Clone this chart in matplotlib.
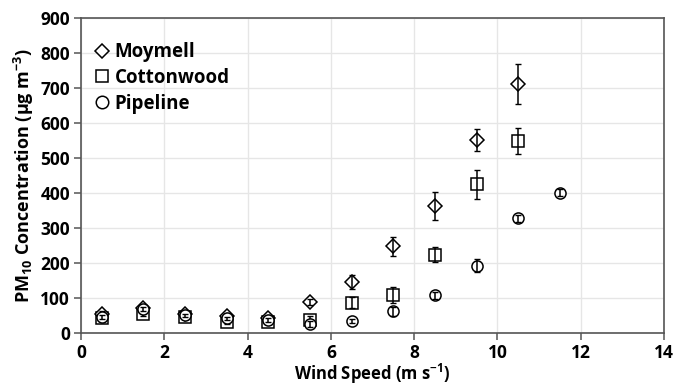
import matplotlib
matplotlib.use("Agg")
import matplotlib.pyplot as plt
from matplotlib.lines import Line2D

plt.rcParams['font.family'] = ['Open Sans', 'DejaVu Sans']
plt.rcParams['mathtext.default'] = 'regular'

moy_x = [0.5, 1.5, 2.5, 3.5, 4.5, 5.5, 6.5, 7.5, 8.5, 9.5, 10.5]
moy_y = [55, 70, 55, 48, 41, 88, 145, 247, 364, 551, 712]
moy_e = [8, 8, 6, 5, 5, 8, 20, 28, 40, 32, 56]

cot_x = [0.5, 1.5, 2.5, 3.5, 4.5, 5.5, 6.5, 7.5, 8.5, 9.5, 10.5]
cot_y = [41, 55, 46, 31, 31, 36, 86, 109, 223, 425, 549]
cot_e = [8, 6, 5, 5, 5, 12, 15, 23, 21, 41, 38]

pip_x = [0.5, 1.5, 2.5, 3.5, 4.5, 5.5, 6.5, 7.5, 8.5, 9.5, 10.5, 11.5]
pip_y = [46, 67, 50, 41, 36, 25, 33, 61, 107, 192, 328, 401]
pip_e = [6, 6, 5, 5, 5, 8, 5, 12, 10, 18, 10, 10]

fig = plt.figure(figsize=(6.9, 3.86), dpi=100)
ax = fig.add_axes([0.1174, 0.138, 0.8449, 0.8146])

series = [(cot_x, cot_y, cot_e, 's', 8), (moy_x, moy_y, moy_e, 'D', 7.5), (pip_x, pip_y, pip_e, 'o', 8)]
z = 3
for xs, ys, es, m, ms in series:
    ax.plot(xs, ys, linestyle='none', marker=m, markersize=ms, markerfacecolor='white',
            markeredgecolor='black', markeredgewidth=1.1, zorder=z)
    ax.errorbar(xs, ys, yerr=es, fmt='none', ecolor='black', elinewidth=1.1,
                capsize=2, capthick=1.0, zorder=z + 0.5)
    z += 1

ax.set_xlim(0, 14)
ax.set_ylim(0, 900)
ax.set_xticks(range(0, 15, 2))
ax.set_yticks(range(0, 901, 100))
ax.grid(True, color='#e6e6e6', linewidth=1)
ax.set_axisbelow(True)
for s in ax.spines.values():
    s.set_color('#555555')
    s.set_linewidth(1.2)
ax.tick_params(axis='both', direction='out', length=5, width=1.1, color='#555555',
               labelsize=12.5, pad=3)
for lab in ax.get_xticklabels() + ax.get_yticklabels():
    lab.set_fontweight('bold')

ax.set_xlabel('Wind Speed (m s$^{-1}$)', fontsize=12, fontweight='bold', va='center')
ax.xaxis.set_label_coords(0.5, -0.132)
ax.set_ylabel('PM$_{10}$ Concentration (µg m$^{-3}$)', fontsize=13, fontweight='bold', labelpad=3)

handles = [Line2D([], [], marker='D', markersize=7, linestyle='none', markerfacecolor='white', markeredgecolor='black', markeredgewidth=1.1),
           Line2D([], [], marker='s', markersize=9, linestyle='none', markerfacecolor='white', markeredgecolor='black', markeredgewidth=1.1),
           Line2D([], [], marker='o', markersize=9, linestyle='none', markerfacecolor='white', markeredgecolor='black', markeredgewidth=1.1)]
ax.legend(handles, ['Moymell', 'Cottonwood', 'Pipeline'], loc='upper left',
          frameon=False, prop={'weight': 'bold', 'size': 13.5},
          handlelength=0.8, handletextpad=0.3, labelspacing=0.3,
          bbox_to_anchor=(0.0, 0.965), borderaxespad=0.3)

fig.savefig('out.png', dpi=100)
